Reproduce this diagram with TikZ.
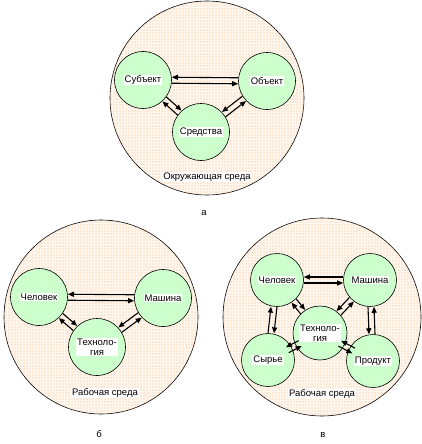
\documentclass[tikz,border=0pt]{standalone}
\usepackage{fontspec}
\setmainfont{Liberation Sans}
\usetikzlibrary{arrows.meta,patterns.meta}
\definecolor{envdots}{RGB}{250,186,130}
\definecolor{unitfill}{RGB}{204,255,204}
\tikzset{
  env/.style={draw, line width=0.6pt, fill={rgb,255:red,255;green,248;blue,240},
    postaction={pattern={Dots[distance=3pt,radius=0.7pt]}, pattern color=envdots}},
  unit/.style={circle, draw, line width=0.6pt, fill=unitfill, inner sep=0pt},
  tag/.style={fill=white, inner sep=1pt, font=\fontsize{9.5}{9.5}\selectfont, align=center},
  caption/.style={font=\fontsize{9.5}{10}\selectfont},
  link/.style={->, line width=1.1pt},
}
\begin{document}
\begin{tikzpicture}[x=1pt,y=-1pt,>={Triangle[length=6pt,width=5pt]}]
  \useasboundingbox (0,0) rectangle (422,444);
  % a
  \draw[env] (207,98) circle[radius=97pt];
  \node[unit, minimum size=57pt, label={[tag]center:Субъект}] (subj) at (143,80) {};
  \node[unit, minimum size=57pt, label={[tag]center:Объект}] (obj) at (267,81) {};
  \node[unit, minimum size=57pt, label={[tag]center:Средства}] (sred) at (201,132) {};
  \node[tag] (envA) at (207,177) {Окружающая среда};
  \draw[link, transform canvas={shift={(0pt,3pt)}}] (obj) -- (subj);
  \draw[link, transform canvas={shift={(0pt,-3pt)}}] (subj) -- (obj);
  \draw[link, transform canvas={shift={(2pt,2.2pt)}}] (subj) -- (sred);
  \draw[link, transform canvas={shift={(-2pt,-2.2pt)}}] (sred) -- (subj);
  \draw[link, transform canvas={shift={(-1.8pt,2.4pt)}}] (obj) -- (sred);
  \draw[link, transform canvas={shift={(1.8pt,-2.4pt)}}] (sred) -- (obj);
  \node[caption] (capA) at (204,213) {а};
  % b
  \draw[env] (101,317) circle[radius=97pt];
  \node[unit, minimum size=57pt, label={[tag]center:Человек}] (chel) at (39,297) {};
  \node[unit, minimum size=57pt, label={[tag]center:Машина}] (mash) at (163,298) {};
  \node[unit, minimum size=57pt, label={[tag]center:Техноло-\\гия}] (tech) at (97,347) {};
  \node[tag] (envB) at (105,393) {Рабочая среда};
  \draw[link, transform canvas={shift={(0pt,3pt)}}] (mash) -- (chel);
  \draw[link, transform canvas={shift={(0pt,-3pt)}}] (chel) -- (mash);
  \draw[link, transform canvas={shift={(2pt,2.3pt)}}] (chel) -- (tech);
  \draw[link, transform canvas={shift={(-2pt,-2.3pt)}}] (tech) -- (chel);
  \draw[link, transform canvas={shift={(-1.8pt,2.4pt)}}] (mash) -- (tech);
  \draw[link, transform canvas={shift={(1.8pt,-2.4pt)}}] (tech) -- (mash);
  \node[caption] (capB) at (99,434) {б};
  % c
  \draw[env] (322,317) circle[radius=99pt];
  \node[unit, minimum size=53pt, label={[tag]center:Человек}] (chelC) at (277,280) {};
  \node[unit, minimum size=53pt, label={[tag]center:Машина}] (mashC) at (370,280) {};
  \node[unit, minimum size=54pt, label={[tag]center:Техноло-\\гия}] (techC) at (320,333) {};
  \node[unit, minimum size=53pt, label={[tag]center:Сырье}] (syr) at (268,360) {};
  \node[unit, minimum size=53pt, label={[tag]center:Продукт}] (prod) at (373,361) {};
  \node[tag] (envC) at (322,394) {Рабочая среда};
  \draw[link, transform canvas={shift={(0pt,3pt)}}] (mashC) -- (chelC);
  \draw[link, transform canvas={shift={(0pt,-3pt)}}] (chelC) -- (mashC);
  \draw[link, transform canvas={shift={(2.3pt,1.9pt)}}] (chelC) -- (techC);
  \draw[link, transform canvas={shift={(-2.3pt,-1.9pt)}}] (techC) -- (chelC);
  \draw[link, transform canvas={shift={(-2.2pt,2pt)}}] (mashC) -- (techC);
  \draw[link, transform canvas={shift={(2.2pt,-2pt)}}] (techC) -- (mashC);
  \draw[link, transform canvas={shift={(3pt,0pt)}}] (chelC) -- (syr);
  \draw[link, transform canvas={shift={(-3pt,0pt)}}] (syr) -- (chelC);
  \draw[link, transform canvas={shift={(-3pt,0pt)}}] (mashC) -- (prod);
  \draw[link, transform canvas={shift={(3pt,0pt)}}] (prod) -- (mashC);
  \draw[link, shorten <=-5pt, shorten >=-5pt, transform canvas={shift={(-1.4pt,2.7pt)}}] (techC) -- (syr);
  \draw[link, shorten <=-5pt, shorten >=-5pt, transform canvas={shift={(1.4pt,-2.7pt)}}] (syr) -- (techC);
  \draw[link, shorten <=-5pt, shorten >=-5pt, transform canvas={shift={(-1.4pt,-2.6pt)}}] (techC) -- (prod);
  \draw[link, shorten <=-5pt, shorten >=-5pt, transform canvas={shift={(1.4pt,2.6pt)}}] (prod) -- (techC);
  \node[caption] (capC) at (323,435) {в};
\end{tikzpicture}
\end{document}
